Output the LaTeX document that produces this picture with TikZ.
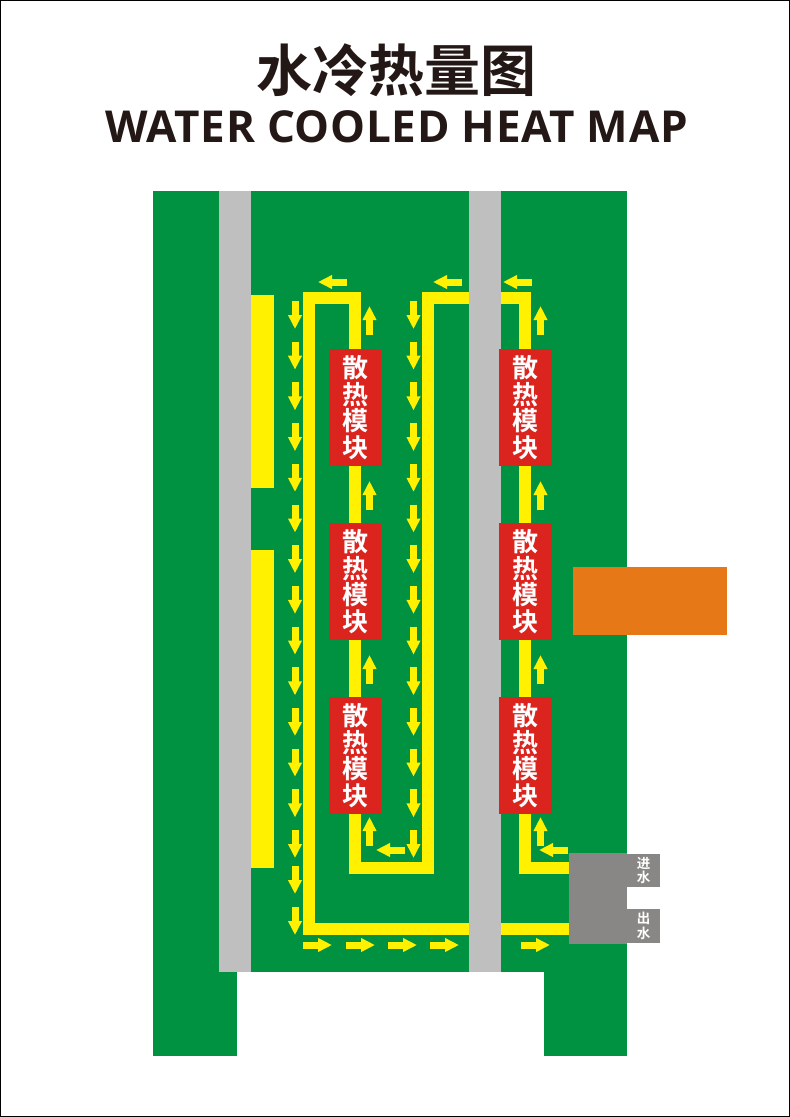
\documentclass[tikz,border=0pt]{standalone}
\usepackage{fontspec}
\usetikzlibrary{arrows.meta}
\newfontfamily\cjk{Noto Sans CJK SC}[BoldFont={* Bold}]
\setmainfont{Open Sans}
\definecolor{board}{HTML}{009240}
\definecolor{pipeyellow}{HTML}{FFF100}
\definecolor{band}{HTML}{BFBFBF}
\definecolor{modred}{HTML}{DC241F}
\definecolor{pumpgrey}{HTML}{888785}
\definecolor{heatorange}{HTML}{E67817}
\definecolor{titleblack}{HTML}{231815}
\tikzset{
  flow/.style={draw=pipeyellow,line width=7pt,-{Triangle[length=14pt,width=13pt,fill=pipeyellow]}},
  pipe/.style={draw=pipeyellow,line width=12pt,miter limit=10},
  module/.style={fill=modred,text=white,minimum width=52.5pt,minimum height=117pt,inner sep=0pt,
    align=center,font=\cjk\bfseries\fontsize{26}{26.7}\selectfont},
  port/.style={fill=pumpgrey,text=white,minimum width=33pt,minimum height=33pt,inner sep=0pt,
    align=center,font=\cjk\bfseries\fontsize{13.5}{14.5}\selectfont}
}
\begin{document}
\begin{tikzpicture}[x=1pt,y=-1pt]

%page
\useasboundingbox (0,0) rectangle (790,1117);
\draw[line width=0.8pt,black] (0.5,0.5) rectangle (789.5,1116.5);

%title
\node[text=titleblack,font=\cjk\bfseries\fontsize{56}{56}\selectfont] (title) at (396,70) {水冷热量图};
\node[text=titleblack,font=\bfseries\fontsize{44}{44}\selectfont\addfontfeature{LetterSpace=1.5}] (subtitle) at (396.5,127) {WATER COOLED HEAT MAP};

%board
\fill[board] (153,191) rectangle (627,972);
\fill[board] (153,972) rectangle (237,1056);
\fill[board] (544,972) rectangle (627,1056);

%yellow bars
\fill[pipeyellow] (251,295) rectangle (274,488);
\fill[pipeyellow] (251,550) rectangle (274,868);

%heat source
\fill[heatorange] (573,567) rectangle (727,635);

%pipe
\draw[pipe] (569,929) -- (309,929) -- (309,298) -- (355,298) -- (355,868) -- (428,868)
  -- (428,298) -- (525,298) -- (525,868) -- (569,868);

%grey bands
\fill[band] (219,191) rectangle (251,972);
\fill[band] (469,191) rectangle (501,972);

%pump and ports
\fill[pumpgrey] (569,853) rectangle (627,944);
\node[port,minimum height=33pt] (in)  at (643.5,870.5) {进\\水};
\node[port,minimum height=34pt] (out) at (643.5,926) {出\\水};

%modules
\foreach \x/\n in {355/l,525.5/r}{
  \foreach \y/\m in {407.5/1,581.5/2,755.5/3}{
    \node[module] (mod\n\m) at (\x,\y) {散\\热\\模\\块};
  }
}

%flow arrows
\foreach \y in {301,341.7,382.4,423.1,463.8,504.5,545.2,585.9,626.6,667.3,708,748.7,789.4,830,866,907}{
  \draw[flow] (295,\y) -- (295,\y+28);
}
\foreach \y in {301,341.7,382.4,423.1,463.8,504.5,545.2,585.9,626.6,667.3,708,748.7,789.4,830}{
  \draw[flow] (413.5,\y) -- (413.5,\y+28);
}
\foreach \x in {369.5,540.5}{
  \foreach \y in {306,481,655,817}{
    \draw[flow] (\x,\y+29) -- (\x,\y);
  }
}
\foreach \x in {318,433,503}{
  \draw[flow] (\x+29,282) -- (\x,282);
}
\foreach \x in {376,539}{
  \draw[flow] (\x+29,850) -- (\x,850);
}
\foreach \x in {303,346,388,430,521}{
  \draw[flow] (\x,945) -- (\x+29,945);
}

\end{tikzpicture}
\end{document}
